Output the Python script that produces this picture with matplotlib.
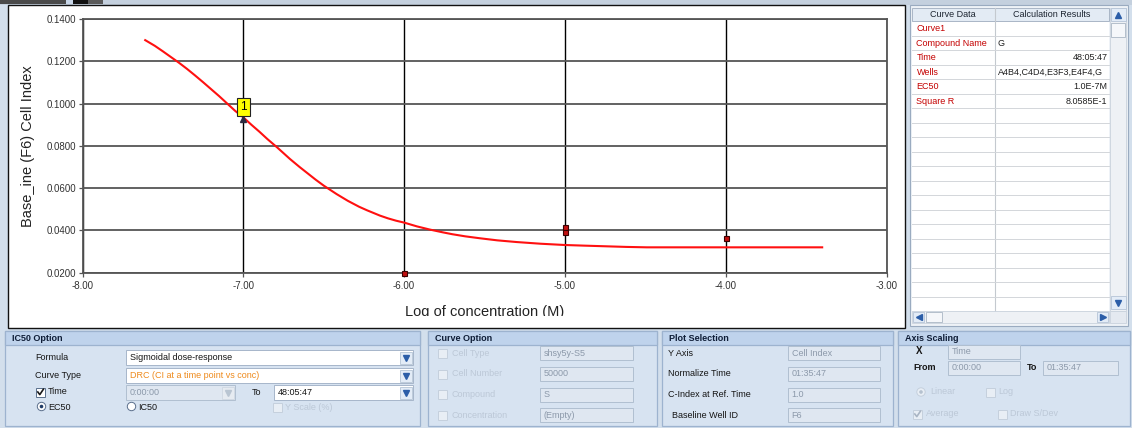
import matplotlib
matplotlib.use('Agg')
import matplotlib.pyplot as plt
from matplotlib.patches import Rectangle, Circle
from matplotlib.transforms import Bbox, TransformedBbox

plt.rcParams['font.family'] = ['Liberation Sans', 'DejaVu Sans']

# ---------------- data ----------------
curve_log_conc = [-7.61, -7.55, -7.50, -7.45, -7.40, -7.35, -7.30, -7.25, -7.20, -7.15,
                  -7.10, -7.05, -7.00, -6.95, -6.90, -6.85, -6.79, -6.71, -6.65, -6.60,
                  -6.55, -6.50, -6.42, -6.35, -6.28, -6.23, -6.15, -6.10, -6.05, -6.00,
                  -5.92, -5.84, -5.76, -5.70, -5.62, -5.53, -5.42, -5.30, -5.15, -5.00,
                  -4.88, -4.75, -4.62, -4.49, -4.25, -4.00, -3.70, -3.40]
curve_cell_index = [0.1300, 0.1273, 0.1247, 0.1220, 0.1193, 0.1164, 0.1133, 0.1101, 0.1068, 0.1035,
                    0.1000, 0.0965, 0.0935, 0.0900, 0.0867, 0.0832, 0.0793, 0.0738, 0.0700, 0.0670,
                    0.0640, 0.0612, 0.0572, 0.0540, 0.0512, 0.0495, 0.0470, 0.0457, 0.0446, 0.0437,
                    0.0419, 0.0404, 0.0391, 0.0382, 0.0372, 0.0363, 0.0353, 0.0345, 0.0337, 0.0331,
                    0.0328, 0.0325, 0.0322, 0.0320, 0.0320, 0.0320, 0.0320, 0.0320]

point_log_conc = [-6.0, -5.0, -5.0, -4.0]
point_cell_index = [0.0200, 0.0418, 0.0394, 0.0363]

ec50_log_conc = [-7.0]
ec50_cell_index = [0.0925]
ec50_label = '1'

x_ticks = [-8, -7, -6, -5, -4, -3]
x_tick_labels = ['-8.00', '-7.00', '-6.00', '-5.00', '-4.00', '-3.00']
y_ticks = [0.02, 0.04, 0.06, 0.08, 0.10, 0.12, 0.14]
y_tick_labels = ['0.0200', '0.0400', '0.0600', '0.0800', '0.1000', '0.1200', '0.1400']

x_label = 'Log of concentration (M)'
y_label = 'Base_ine (F6) Cell Index'

table_headers = ['Curve Data', 'Calculation Results']
table_keys = ['Curve1', 'Compound Name', 'Time', 'Wells', 'EC50', 'Square R']
table_values = ['', 'G', '48:05:47', 'A4B4,C4D4,E3F3,E4F4,G', '1.0E-7M', '8.0585E-1']

curve_option_labels = ['Cell Type', 'Cell Number', 'Compound', 'Concentration']
curve_option_values = ['shsy5y-S5', '50000', 'S', '(Empty)']
plot_sel_labels = ['Y Axis', 'Normalize Time', 'C-Index at Ref. Time', 'Baseline Well ID']
plot_sel_values = ['Cell Index', '01:35:47', '1.0', 'F6']

# ---------------- figure ----------------
W, H = 1132, 428
fig = plt.figure(figsize=(W / 100, H / 100), dpi=100)
fig.patch.set_facecolor('#d3dfec')

ui = fig.add_axes([0, 0, 1, 1], zorder=0)
ui.set_xlim(0, W)
ui.set_ylim(H, 0)
ui.axis('off')


def box(x0, y0, x1, y1, fc, ec='none', lw=0.8, z=1):
    ui.add_patch(Rectangle((x0, y0), x1 - x0, y1 - y0, facecolor=fc,
                           edgecolor=ec, linewidth=lw, zorder=z))


def txt(x, y, s, size=6.5, color='#151515', ha='left', va='center', weight='normal', z=6):
    return ui.text(x, y, s, fontsize=size, color=color, ha=ha, va=va,
                   fontweight=weight, zorder=z)


def clip_to(artist, x0, y0, x1, y1):
    bb = Bbox.from_extents(x0 / W, 1 - y1 / H, x1 / W, 1 - y0 / H)
    artist.set_clip_box(TransformedBbox(bb, fig.transFigure))
    artist.set_clip_on(True)


def arrow_btn(x0, y0, x1, y1, enabled=True, mk='v'):
    box(x0, y0, x1, y1, '#e3ecf7' if enabled else '#e6ebf1',
        ec='#b5c4d6' if enabled else '#cfd8e2', lw=0.6, z=3)
    ui.plot([(x0 + x1) / 2], [(y0 + y1) / 2], marker=mk, ms=4.2,
            color='#2c5ea8' if enabled else '#b9c5d2', zorder=4)


def field(x0, y0, x1, y1, text, enabled=True, color=None, arrow=False, arrow_enabled=True):
    if enabled:
        box(x0, y0, x1, y1, 'white', ec='#a6b6ca', lw=0.7, z=2)
    else:
        box(x0, y0, x1, y1, '#dfe7f1', ec='#b0bfd0', lw=0.7, z=2)
    c = color or ('#151515' if enabled else '#8c99aa')
    txt(x0 + 3.5, (y0 + y1) / 2, text, color=c)
    if arrow:
        arrow_btn(x1 - 13, y0 + 1.5, x1 - 1.5, y1 - 1.5, arrow_enabled)


def checkbox(x, y, checked=False, enabled=True):
    box(x, y - 4.5, x + 9, y + 4.5, 'white' if enabled else '#e8eef5',
        ec='#5a6f8c' if enabled else '#c5d0dd', lw=0.7, z=3)
    if checked:
        ui.plot([x + 1.8, x + 3.8, x + 7.4], [y, y + 2.6, y - 2.8],
                color='#1a1a1a' if enabled else '#a9b5c4', lw=1.2, zorder=4)


def radio(x, y, selected=False, enabled=True):
    ui.add_patch(Circle((x, y), 4.2, facecolor='white' if enabled else '#e8eef5',
                        edgecolor='#5a6f8c' if enabled else '#c5d0dd', lw=0.7, zorder=3))
    if selected:
        ui.add_patch(Circle((x, y), 1.8, facecolor='#1f3b66' if enabled else '#b5c1cf',
                            edgecolor='none', zorder=4))


# top strip
box(0, 0, W, 4.5, '#c4d0de')
box(0, 0, 66, 4, '#4a4a4a')
box(66, 0, 73, 4, '#c8d6e8')
box(73, 0, 88, 4, '#111111')
box(88, 0, 103, 4, '#5a5a5a')

# chart panel
box(7.5, 4.5, 905, 327.5, 'white', ec='#111111', lw=1.0)

# ---------------- table panel ----------------
box(910, 5, 1128, 326, '#eef2f7', ec='#9aabc0', lw=0.8)
box(912, 7.5, 1109, 311, 'white', ec='none')
box(912, 7.5, 1109, 21, '#e3ebf4', ec='#a9b6c6', lw=0.7, z=2)
ui.plot([994.5, 994.5], [7.5, 311], color='#c4c9cf', lw=0.8, zorder=2)
txt(953, 14.5, table_headers[0], ha='center', color='#1c2430')
txt(1052, 14.5, table_headers[1], ha='center', color='#1c2430')
k = 1
while 21 + 14.5 * k < 311:
    yy = 21 + 14.5 * k
    ui.plot([912, 1109], [yy, yy], color='#d3d6da', lw=0.7, zorder=2)
    k += 1
for i, (key, val) in enumerate(zip(table_keys, table_values)):
    yc = 21 + 7.5 + 14.5 * i
    txt(916.5, yc, key, color='#c40000')
    if val:
        if val == 'G' or val.startswith('A4'):
            tv = txt(997.5, yc, val, color='#202020')
            clip_to(tv, 995, 0, 1108.5, H)
        else:
            txt(1107.5, yc, val, ha='right', color='#202020')
# vertical scrollbar
box(1110, 7.5, 1126, 311, '#eef1f5', ec='#c9d2dd', lw=0.6, z=2)
arrow_btn(1110.5, 8, 1125.5, 21, True, '^')
box(1111, 23, 1125, 37, '#f5f7fa', ec='#aab6c4', lw=0.6, z=3)
arrow_btn(1110.5, 296, 1125.5, 309, True, 'v')
# horizontal scrollbar
box(912, 311, 1109, 323, '#eef1f5', ec='#c9d2dd', lw=0.6, z=2)
arrow_btn(913, 312, 924, 322, True, '<')
box(926, 312, 942, 322, '#f5f7fa', ec='#aab6c4', lw=0.6, z=3)
arrow_btn(1097, 312, 1108, 322, True, '>')
box(1110, 311, 1126, 323, '#e4e9f0', ec='#c9d2dd', lw=0.6, z=2)


# ---------------- bottom panels ----------------
def panel(x0, x1, title):
    box(x0, 331, x1, 426, '#d7e3f1', ec='#9db3cf', lw=0.9)
    box(x0, 331, x1, 345, '#bfd3ec', ec='#9db3cf', lw=0.9)
    txt(x0 + 7, 338.5, title, weight='bold', color='#0f1d36')


panel(5, 419.5, 'IC50 Option')
panel(428, 657, 'Curve Option')
panel(662, 893, 'Plot Selection')
panel(898, 1130, 'Axis Scaling')

# IC50 Option
txt(35, 357, 'Formula')
field(126, 350, 413, 365, 'Sigmoidal dose-response', arrow=True)
txt(35, 375, 'Curve Type')
field(126, 368, 413, 383, 'DRC (CI at a time point vs conc)', color='#ee8a1c', arrow=True)
checkbox(36, 392, checked=True)
txt(48, 392, 'Time')
field(126, 385, 235, 400, '0:00:00', enabled=False, arrow=True, arrow_enabled=False)
txt(252, 392.5, 'To')
field(274, 385, 413, 400, '48:05:47', arrow=True)
radio(41.5, 406.5, selected=True)
txt(48, 407, 'EC50')
radio(131.5, 406.5)
txt(138, 407, 'IC50')
checkbox(273, 407.5, enabled=False)
txt(285, 407.5, 'Y Scale (%)', color='#bcc8d7')

# Curve Option
rows_y = [353, 374, 394.5, 415]
for yy, lab, val in zip(rows_y, curve_option_labels, curve_option_values):
    checkbox(438, yy, enabled=False)
    txt(452, yy, lab, color='#bcc8d7')
    field(540, yy - 7, 633, yy + 7, val, enabled=False)

# Plot Selection
for i, (yy, lab, val) in enumerate(zip(rows_y, plot_sel_labels, plot_sel_values)):
    txt(672 if i == 3 else 668, yy, lab)
    field(788, yy - 7, 880, yy + 7, val, enabled=False)

# Axis Scaling
txt(916, 351, 'X', weight='bold', size=7)
field(948, 345, 1020, 358.5, 'Time', enabled=False)
txt(913, 368, 'From', weight='bold')
field(948, 361, 1020, 375, '0:00:00', enabled=False)
txt(1027, 368, 'To', weight='bold')
field(1043, 361, 1118, 375, '01:35:47', enabled=False)
radio(921, 392, selected=True, enabled=False)
txt(930, 392, 'Linear', color='#bcc8d7')
checkbox(986, 392, enabled=False)
txt(998, 392, 'Log', color='#bcc8d7')
checkbox(913, 414, checked=True, enabled=False)
txt(926, 414, 'Average', color='#bcc8d7')
checkbox(998, 414, enabled=False)
txt(1010, 414, 'Draw S/Dev', color='#bcc8d7')

# ---------------- chart ----------------
left_px, right_px, top_px, bottom_px = 82.5, 886.5, 19.0, 272.7
ax = fig.add_axes([left_px / W, 1 - bottom_px / H, (right_px - left_px) / W,
                   (bottom_px - top_px) / H], zorder=3)
ax.set_facecolor('white')
ax.set_xlim(-8, -3)
ax.set_ylim(0.02, 0.14)
ax.set_xticks(x_ticks)
ax.set_xticklabels(x_tick_labels)
ax.set_yticks(y_ticks)
ax.set_yticklabels(y_tick_labels)
ax.tick_params(axis='both', direction='out', length=3.2, width=0.9, color='#555555',
               labelsize=7, labelcolor='#333333')
ax.tick_params(axis='y', pad=1.5)
ax.tick_params(axis='x', pad=3)
ax.grid(axis='y', color='#555555', lw=1.3)
ax.grid(axis='x', color='#000000', lw=1.0)
ax.set_axisbelow(True)
for s in ax.spines.values():
    s.set_color('#555555')
    s.set_linewidth(1.3)

ax.plot(curve_log_conc, curve_cell_index, color='#ff1010', lw=1.5, zorder=3,
        solid_joinstyle='round')
ax.plot(point_log_conc, point_cell_index, ls='none', marker='s', ms=3.6,
        markerfacecolor='#c01010', markeredgecolor='#3a0000', markeredgewidth=0.8,
        zorder=4, clip_on=False)
ax.plot(ec50_log_conc, ec50_cell_index, ls='none', marker='^', ms=4.5,
        color='#2a2a40', zorder=5)
ax.annotate(ec50_label, (ec50_log_conc[0], ec50_cell_index[0]), xytext=(0, 9),
            textcoords='offset points', ha='center', va='center', fontsize=8.5,
            color='black', zorder=6,
            bbox=dict(boxstyle='square,pad=0.25', facecolor='#ffff00',
                      edgecolor='#222222', linewidth=0.8))

# axis labels
txt(28.5, 146, y_label, size=10.5, color='#222222', ha='center', va='center').set_rotation(90)
xl = txt((left_px + right_px) / 2, 316, x_label, size=10.5, color='#222222',
         ha='center', va='baseline')
clip_to(xl, 0, 0, W, 315.5)

fig.savefig('out.png', dpi=100, facecolor=fig.get_facecolor())
